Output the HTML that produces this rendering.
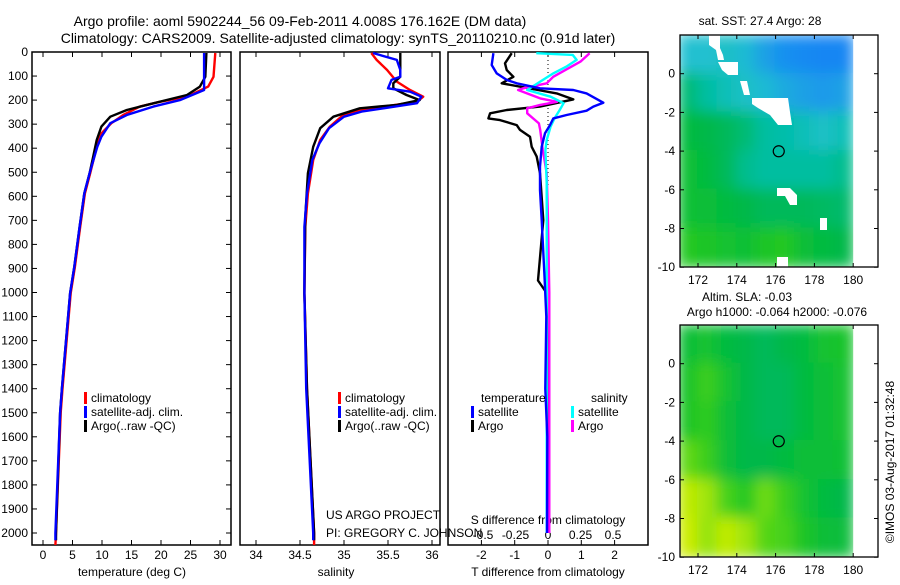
<!DOCTYPE html>
<html><head><meta charset="utf-8"><style>
body{margin:0;background:#fff;}
svg{font-family:"Liberation Sans",sans-serif;}
text{fill:#000;}
</style></head><body>
<svg id="fig" width="900" height="580" viewBox="0 0 900 580">
<rect width="900" height="580" fill="#fff"/>
<text x="300" y="26" font-size="14" text-anchor="middle">Argo profile: aoml 5902244_56 09-Feb-2011 4.008S 176.162E (DM data)</text>
<text x="338" y="43" font-size="14" text-anchor="middle">Climatology: CARS2009. Satellite-adjusted climatology: synTS_20110210.nc (0.91d later)</text>
<g id="g"></g>
<text x="760" y="25" font-size="12" text-anchor="middle">sat. SST: 27.4 Argo: 28</text>
<text x="747" y="301" font-size="12" text-anchor="middle">Altim. SLA: -0.03</text>
<text x="777" y="316" font-size="12" text-anchor="middle">Argo h1000: -0.064 h2000: -0.076</text>
<text transform="translate(894,462) rotate(-90)" font-size="12" text-anchor="middle">©IMOS 03-Aug-2017 01:32:48</text>
</svg>
<script>
// ---- data ----
const depthTicks=[0,100,200,300,400,500,600,700,800,900,1000,1100,1200,1300,1400,1500,1600,1700,1800,1900,2000];
const tempTicks=[0,5,10,15,20,25,30];
const salTicks=[34,34.5,35,35.5,36];
const tdiffTicks=[-2,-1,0,1,2];
const sdiffTicks=[-0.5,-0.25,0,0.25,0.5];
const sdiffTickLabels=["-0.5","-0.25","0","0.25","0.5"];

const tClimD=[4,103,144,186,207,227,262,296,338,394,504,588,727,893,1003,1400,1500,2000,2050];
const tClimV=[29.2,28.9,28.0,24.4,19.8,16.4,13.6,11.6,9.9,9.1,8.0,7.1,6.3,5.4,4.7,3.3,3.0,2.2,2.1];
const tSatD=[4,158,200,227,262,296,352,394,504,588,727,893,1003,1400,1500,2000,2030];
const tSatV=[27.3,27.3,23.2,18.7,14.2,11.4,9.9,9.2,7.9,7.0,6.2,5.3,4.6,3.2,2.9,2.1,2.1];
const tArgoD=[4,103,144,179,220,241,269,310,366,435,504,588,727,893,1003,1400,1500,2000,2030];
const tArgoV=[27.7,27.5,26.6,24.4,17.6,14.2,11.4,9.9,9.1,8.5,7.9,7.0,6.2,5.3,4.6,3.2,2.9,2.2,2.2];

const sClimD=[4,33,75,123,158,186,207,227,241,262,310,366,449,588,727,1003,1400,2000,2050];
const sClimV=[35.31,35.37,35.49,35.60,35.75,35.90,35.83,35.45,35.18,34.99,34.84,34.73,34.65,34.59,34.56,34.55,34.58,34.66,34.66];
const sSatD=[4,33,75,103,116,151,165,186,213,234,248,269,317,380,449,588,727,1003,1400,2000,2030];
const sSatV=[35.33,35.60,35.64,35.64,35.54,35.50,35.75,35.88,35.83,35.45,35.20,35.00,34.83,34.72,34.64,34.58,34.55,34.55,34.57,34.65,34.65];
const sArgoD=[4,103,130,151,179,200,220,234,269,317,394,504,685,1003,1400,2000,2030];
const sArgoV=[35.64,35.64,35.56,35.56,35.71,35.86,35.60,35.18,34.88,34.73,34.65,34.59,34.56,34.55,34.58,34.66,34.66];

const dTSatD=[5,54,89,116,130,151,158,172,211,227,244,262,276,304,338,394,477,574,699,950,1100,1400,1600,2000];
const dTSatV=[-1.64,-1.69,-1.54,-1.24,-0.94,-0.24,0.76,1.16,1.66,1.36,1.16,0.56,0.16,0.06,-0.09,-0.19,-0.24,-0.24,-0.19,-0.1,-0.05,-0.08,-0.02,-0.03];
const dTArgoD=[5,47,75,103,130,172,197,227,241,255,276,283,304,324,352,394,435,504,699,950,1000,1200,1500,2000];
const dTArgoV=[-1.09,-1.29,-1.24,-1.04,-1.39,0.26,0.76,-0.24,-1.24,-1.74,-1.79,-1.44,-0.94,-0.84,-0.54,-0.49,-0.34,-0.24,-0.14,-0.3,-0.05,-0.02,0.0,0.0];
const dSSatD=[5,12,33,61,89,123,158,186,213,241,276,310,366,407,546,1000,1500,2000];
const dSSatV=[-0.09,0.19,0.22,0.14,0.04,-0.06,-0.16,0.02,0.12,0.09,0.05,0.02,-0.01,-0.02,-0.01,-0.01,-0.01,-0.01];
const dSArgoD=[5,40,103,130,151,158,193,207,220,234,255,297,324,407,504,699,1000,1500,2000];
const dSArgoV=[0.32,0.25,0.04,-0.01,-0.19,-0.23,-0.06,0.07,-0.06,-0.16,-0.16,-0.07,-0.06,-0.04,-0.01,0.0,0.01,0.01,0.01];

const mapLonTicks=[172,174,176,178,180];
const mapLatTicks=[0,-2,-4,-6,-8,-10];
const sstGrid=[[0.4,0.4,0.42,0.38,0.3,0.25,0.22,0.2,0.2],[0.55,0.5,0.45,0.42,0.38,0.33,0.3,0.28,0.3],[0.62,0.6,0.58,0.55,0.5,0.48,0.45,0.42,0.45],[0.65,0.62,0.58,0.52,0.5,0.5,0.5,0.5,0.52],[0.65,0.64,0.62,0.6,0.58,0.58,0.58,0.57,0.56],[0.7,0.68,0.66,0.65,0.68,0.7,0.64,0.62,0.6]];
const slaGrid=[[0.64,0.66,0.62,0.6,0.58,0.6,0.62,0.66,0.67],[0.67,0.74,0.66,0.6,0.58,0.58,0.62,0.64,0.66],[0.68,0.72,0.64,0.6,0.58,0.58,0.62,0.64,0.66],[0.8,0.74,0.64,0.6,0.6,0.62,0.64,0.64,0.65],[0.95,0.9,0.76,0.7,0.82,0.74,0.66,0.62,0.6],[0.97,0.88,0.95,0.9,0.78,0.76,0.68,0.64,0.63]];
const floatLon=176.162, floatLat=-4.008;

// ---- helpers ----
const NS="http://www.w3.org/2000/svg";
const G=document.getElementById('g');
function mk(tag,at,par){const e=document.createElementNS(NS,tag);for(const k in at)e.setAttribute(k,at[k]);(par||G).appendChild(e);return e;}
const PT=52, PB=545;
const yD=d=>PT+d*0.2405;
const xT=v=>43+v*5.9;
const xS=v=>256+(v-34)*88;
const xdT=v=>548+v*33.3;
const xdS=v=>548+v*130;

function line(D,V,xf,color,name,w){
  const p=D.map((d,i)=>xf(V[i]).toFixed(1)+','+yD(d).toFixed(1)).join(' ');
  const e=mk('polyline',{points:p,fill:'none',stroke:color,'stroke-width':w||2.4,'stroke-linejoin':'round'});
  
  
}
function panel(x0,x1,name){
  const r=mk('rect',{x:x0,y:PT,width:x1-x0,height:PB-PT,fill:'none',stroke:'#000','stroke-width':1.5});
  
  
}
function txt(x,y,s,anchor,size,name){
  const t=mk('text',{x:x,y:y,'font-size':size||12,'text-anchor':anchor||'start'});
  t.textContent=s;
  
  
  return t;
}

// ---- panels ----
panel(32,231,'temperature-panel');
panel(240,440,'salinity-panel');
panel(448,648,'difference-panel');

depthTicks.forEach(d=>{
  const y=yD(d);
  mk('line',{x1:32,x2:37,y1:y,y2:y,stroke:'#000'});
  mk('line',{x1:226,x2:231,y1:y,y2:y,stroke:'#000'});
  txt(28,y+4,String(d),'end',12,'depth-tick-label');
});
tempTicks.forEach(v=>{const x=xT(v);mk('line',{x1:x,x2:x,y1:PB,y2:PB-5,stroke:'#000'});mk('line',{x1:x,x2:x,y1:PT,y2:PT+5,stroke:'#000'});txt(x,559,String(v),'middle',12,'temp-tick-label');});
salTicks.forEach(v=>{const x=xS(v);mk('line',{x1:x,x2:x,y1:PB,y2:PB-5,stroke:'#000'});mk('line',{x1:x,x2:x,y1:PT,y2:PT+5,stroke:'#000'});txt(x,559,String(v),'middle',12,'salinity-tick-label');});
tdiffTicks.forEach(v=>{const x=xdT(v);mk('line',{x1:x,x2:x,y1:PB,y2:PB-5,stroke:'#000'});mk('line',{x1:x,x2:x,y1:PT,y2:PT+5,stroke:'#000'});txt(x,559,String(v),'middle',12,'tdiff-tick-label');});
sdiffTicks.forEach((v,i)=>{txt(xdS(v),539,sdiffTickLabels[i],'middle',12,'sdiff-tick-label');});
txt(132,576,'temperature (deg C)','middle',12,'x-axis-title-temperature');
txt(336,576,'salinity','middle',12,'x-axis-title-salinity');
txt(548,576,'T difference from climatology','middle',12,'x-axis-title-tdiff');
txt(548,524,'S difference from climatology','middle',12,'x-axis-title-sdiff');
mk('line',{x1:548,x2:548,y1:PT,y2:185,stroke:'#000','stroke-dasharray':'1,3'});

line(tClimD,tClimV,xT,'#ff0000','temp-climatology-line');
line(tArgoD,tArgoV,xT,'#000000','temp-argo-line');
line(tSatD,tSatV,xT,'#0000ff','temp-satellite-line');
line(sClimD,sClimV,xS,'#ff0000','salinity-climatology-line');
line(sArgoD,sArgoV,xS,'#000000','salinity-argo-line');
line(sSatD,sSatV,xS,'#0000ff','salinity-satellite-line');
line(dTArgoD,dTArgoV,xdT,'#000000','tdiff-argo-line');
line(dSArgoD,dSArgoV,xdS,'#ff00ff','sdiff-argo-line');
line(dSSatD,dSSatV,xdS,'#00ffff','sdiff-satellite-line');
line(dTSatD,dTSatV,xdT,'#0000ff','tdiff-satellite-line');

function legItem(x,y,color,label,name){
  mk('rect',{x:x,y:y-10,width:3,height:12,fill:color});
  txt(x+7,y,label,'start',12,name);
}
legItem(84,402,'#ff0000','climatology','legend-climatology');
legItem(84,416,'#0000ff','satellite-adj. clim.','legend-satellite');
legItem(84,430,'#000000','Argo(..raw -QC)','legend-argo');
legItem(338,402,'#ff0000','climatology','legend-climatology-2');
legItem(338,416,'#0000ff','satellite-adj. clim.','legend-satellite-2');
legItem(338,430,'#000000','Argo(..raw -QC)','legend-argo-2');
txt(481,402,'temperature','start',12,'legend-temperature-heading');
txt(591,402,'salinity','start',12,'legend-salinity-heading');
legItem(471,416,'#0000ff','satellite','legend-t-satellite');
legItem(471,430,'#000000','Argo','legend-t-argo');
legItem(571,416,'#00ffff','satellite','legend-s-satellite');
legItem(571,430,'#ff00ff','Argo','legend-s-argo');
txt(326,519,'US ARGO PROJECT','start',12,'project-label');
txt(326,537,'PI: GREGORY C. JOHNSON','start',12,'pi-label');

// ---- maps ----
const ramp=[[0,[0,96,255]],[0.25,[24,144,240]],[0.4,[32,192,208]],[0.5,[0,190,160]],[0.6,[0,184,72]],[0.7,[32,200,32]],[0.85,[128,224,16]],[1,[224,240,0]]];
function col(v){for(let i=1;i<ramp.length;i++){if(v<=ramp[i][0]){const a=ramp[i-1],b=ramp[i],t=(v-a[0])/(b[0]-a[0]);const c=a[1].map((q,k)=>Math.round(q+(b[1][k]-q)*t));return 'rgb('+c.join(',')+')';}}return 'rgb(224,240,0)';}
const defs=mk('defs',{});
const filt=mk('filter',{id:'bl',x:'-5%',y:'-5%',width:'110%',height:'110%'},defs);
mk('feGaussianBlur',{stdDeviation:7,edgeMode:'duplicate'},filt);

function map(top,grid,name,masks){
  const L=680,R=878,B=top+232;
  const xL=lon=>698+(lon-172)*19.4;
  const yL=lat=>top+(2-lat)*19.35;
  const cp=mk('clipPath',{id:'cp'+top},defs);
  mk('rect',{x:L,y:top,width:xL(180)-L,height:B-top},cp);
  const cg=mk('g',{'clip-path':'url(#cp'+top+')'});
  const hg=mk('g',{filter:'url(#bl)'},cg);
  
  
  grid.forEach((row,r)=>row.forEach((v,c)=>{
    const cell=mk('rect',{x:xL(171+c)-1,y:yL(2-2*r)-1,width:19.4+2,height:2*19.35+2,fill:col(v)},hg);
    
  }));
  (masks||[]).forEach(m=>mk('polygon',{points:m,fill:'#fff'},cg));
  const box=mk('rect',{x:L,y:top,width:R-L,height:B-top,fill:'none',stroke:'#000','stroke-width':1.3});
  
  
  mapLonTicks.forEach(v=>{const x=xL(v);mk('line',{x1:x,x2:x,y1:B,y2:B-4,stroke:'#000'});mk('line',{x1:x,x2:x,y1:top,y2:top+4,stroke:'#000'});txt(x,B+17,String(v),'middle',12,'map-lon-label');});
  mapLatTicks.forEach(v=>{const y=yL(v);mk('line',{x1:L,x2:L+4,y1:y,y2:y,stroke:'#000'});mk('line',{x1:R,x2:R-4,y1:y,y2:y,stroke:'#000'});txt(L-5,y+4,String(v),'end',12,'map-lat-label');});
  const c=mk('circle',{cx:xL(floatLon),cy:yL(floatLat),r:5.5,fill:'none',stroke:'#000','stroke-width':1.2});
  
  
}
map(35,sstGrid,'sst-map',[
 '709,35 720,35 720,48 723,55 724,60 718,60 716,50 709,45',
 '718,62 738,62 738,75 728,75 722,70',
 '740,81 747,81 750,95 744,95',
 '752,98 788,98 790,112 792,125 778,125 770,115 758,108 752,104',
 '777,188 790,188 797,195 797,205 790,205 785,196 777,196',
 '820,218 827,218 827,230 820,230',
 '777,257 788,257 788,267 777,267'
]);
map(325,slaGrid,'sla-map',[]);
</script>
</body></html>
